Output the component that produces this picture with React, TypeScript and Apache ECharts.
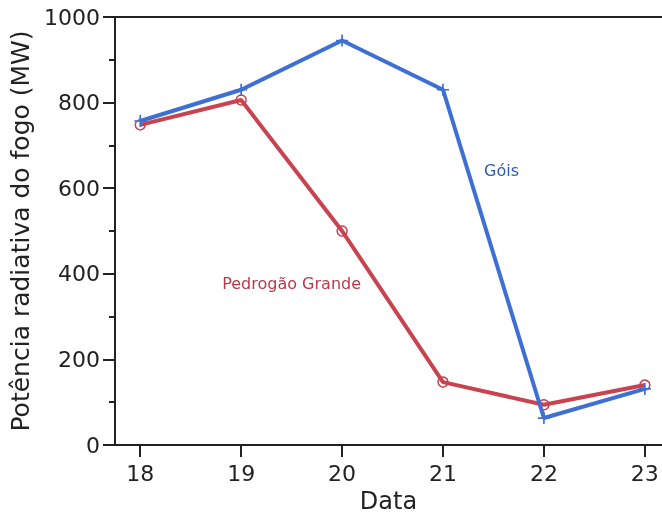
import React, { useEffect, useRef } from "react";
import * as echarts from "echarts";

const days = [18, 19, 20, 21, 22, 23];
const goisValues = [757, 830, 945, 830, 63, 131];
const pedrogaoValues = [748, 806, 500, 147, 94, 140];

const BLUE = "#3e6fd4";
const RED = "#c8434f";
const FONT = "DejaVu Sans";
const X_MIN = 17.75;
const X_MAX = 23.17;

export default function App() {
  const ref = useRef<HTMLDivElement>(null);
  useEffect(() => {
    if (!ref.current) return;
    document.body.style.margin = "0";
    const chart = echarts.init(ref.current, undefined, { renderer: "svg" });
    const plus = "path://M4.3,0h1.4v4.3h4.3v1.4h-4.3v4.3h-1.4v-4.3h-4.3v-1.4h4.3z";
    const labelPoint = (x: number, y: number, text: string, color: string) => ({
      symbol: "circle",
      symbolSize: 1,
      itemStyle: { color: "rgba(0,0,0,0)" },
      data: [{ coord: [x, y], value: text }],
      label: {
        show: true,
        position: "inside",
        formatter: text,
        fontFamily: FONT,
        fontSize: 16,
        color,
      },
    });
    chart.setOption({
      animation: false,
      grid: {
        left: 115,
        top: 17,
        bottom: 72,
        right: 0,
        show: false,
        containLabel: false,
        outerBoundsMode: "none",
      },
      xAxis: [
        {
          type: "value",
          min: X_MIN,
          max: X_MAX,
          name: "Data",
          nameLocation: "middle",
          nameGap: 44,
          nameTextStyle: { fontFamily: FONT, fontSize: 24, color: "#222", lineHeight: 24 },
          axisLine: { show: true, lineStyle: { color: "#222", width: 2 } },
          axisTick: {
            show: true,
            customValues: days,
            length: 12,
            lineStyle: { color: "#222", width: 2 },
          },
          axisLabel: {
            customValues: days,
            fontFamily: FONT,
            fontSize: 22,
            color: "#222",
            margin: 17,
          },
          splitLine: { show: false },
        },
        {
          type: "value",
          position: "top",
          min: X_MIN,
          max: X_MAX,
          axisLine: { show: true, lineStyle: { color: "#222", width: 2 } },
          axisTick: { show: false },
          axisLabel: { show: false },
          splitLine: { show: false },
        },
      ],
      yAxis: {
        type: "value",
        min: 0,
        max: 1000,
        interval: 200,
        name: "Potência radiativa do fogo (MW)",
        nameLocation: "middle",
        nameGap: 63,
        nameTextStyle: { fontFamily: FONT, fontSize: 25, color: "#222" },
        axisLine: { show: true, lineStyle: { color: "#222", width: 2 } },
        axisTick: { show: true, length: 12, lineStyle: { color: "#222", width: 2 } },
        minorTick: { show: true, splitNumber: 2, length: 6, lineStyle: { color: "#222", width: 2 } },
        axisLabel: {
          fontFamily: FONT,
          fontSize: 22,
          color: "#222",
          margin: 15,
          formatter: (v: number) => String(v),
        },
        splitLine: { show: false },
        minorSplitLine: { show: false },
      },
      series: [
        {
          type: "line",
          name: "Pedrogão Grande",
          data: days.map((d, i) => [d, pedrogaoValues[i]]),
          symbol: "circle",
          symbolSize: 10,
          showAllSymbol: true,
          itemStyle: { color: "rgba(255,255,255,0)", borderColor: RED, borderWidth: 1.5 },
          lineStyle: { color: RED, width: 4 },
          z: 2,
          markPoint: labelPoint(19.5, 378, "Pedrogão Grande", "#b83a4a"),
        },
        {
          type: "line",
          name: "Góis",
          data: days.map((d, i) => [d, goisValues[i]]),
          symbol: plus,
          symbolSize: 12,
          showAllSymbol: true,
          itemStyle: { color: BLUE },
          lineStyle: { color: BLUE, width: 4 },
          z: 3,
          markPoint: labelPoint(21.58, 642, "Góis", "#2d5cb3"),
        },
      ],
    });
    return () => chart.dispose();
  }, []);
  return (
    <div
      ref={ref}
      style={{ position: "fixed", left: 0, top: 0, width: 662, height: 517 }}
    />
  );
}
